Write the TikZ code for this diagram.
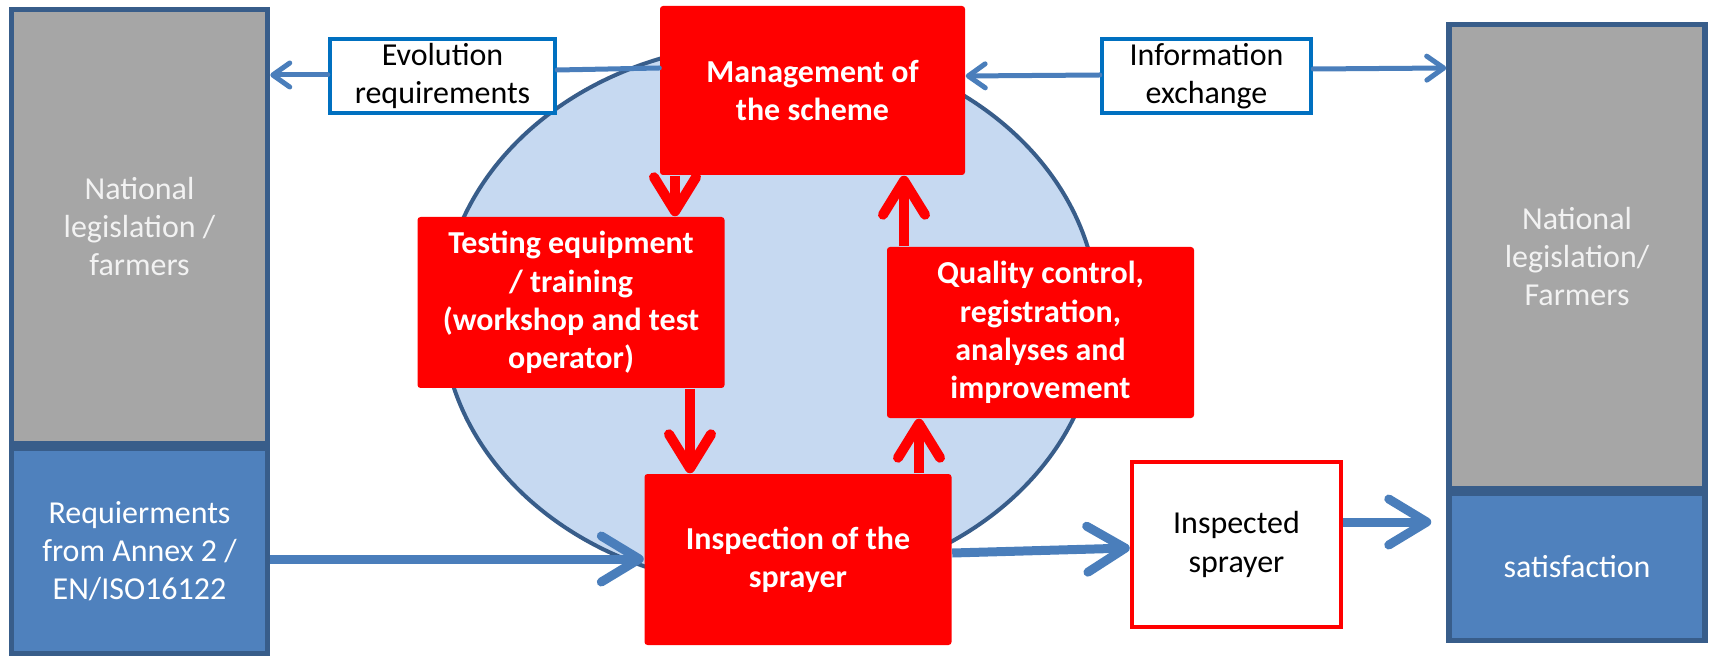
\documentclass[tikz,border=0pt]{standalone}
\usepackage{fontspec}
\setmainfont{Carlito}
\usepackage{tikz}
\usetikzlibrary{arrows.meta, shapes.geometric, positioning}

\definecolor{schemered}{HTML}{FF0000}
\definecolor{colgray}{HTML}{A6A6A6}
\definecolor{colblue}{HTML}{4F81BD}
\definecolor{colframe}{HTML}{385D8A}
\definecolor{ringfill}{HTML}{C6D9F1}
\definecolor{flowblue}{HTML}{4A7EBB}
\definecolor{linkblue}{HTML}{0070C0}
\definecolor{paletext}{HTML}{F2F2F2}

\begin{document}
\begin{tikzpicture}[x=0.1mm, y=-0.1mm,
        txt/.style={font=\fontsize{9.1}{10.9}\selectfont, align=center, inner sep=0pt},
        colbox/.style={txt, draw=colframe, line width=0.55mm, minimum width=25.6mm},
        redbox/.style={txt, font=\fontsize{9.1}{10.9}\selectfont\bfseries, fill=schemered, text=white,
            rounded corners=0.3mm, minimum width=30.7mm, minimum height=17.1mm},
        linkbox/.style={txt, draw=linkblue, fill=white, line width=0.45mm, minimum height=7.4mm},
        cyclearrow/.style={draw=schemered, line width=1mm, -{Straight Barb[length=3.4mm, width=4.2mm, round]}},
        feedline/.style={draw=flowblue, line width=0.5mm, line cap=round},
        feedarrow/.style={feedline, -{Straight Barb[length=1.7mm, width=2.4mm, round]}},
        flowarrow/.style={draw=flowblue, line width=0.9mm, -{Straight Barb[length=3.8mm, width=4.6mm, round]}}]
    \useasboundingbox (0,0) rectangle (1711,658);

    \node[ellipse, draw=colframe, fill=ringfill, line width=0.4mm,
        minimum width=65.6mm, minimum height=54.4mm] (ring) at (770,315) {};

    \node[colbox, fill=colgray, text=paletext, minimum height=43.4mm] (natL) at (139.5,226.5) {National\\legislation /\\farmers};
    \node[colbox, fill=colblue, text=white, minimum height=20.5mm] (reqL) at (139.5,551) {Requierments\\from Annex 2 /\\EN/ISO16122};
    \node[colbox, fill=colgray, text=paletext, minimum height=46.4mm] (natR) at (1577,256.5) {National\\legislation/\\Farmers};
    \node[colbox, fill=colblue, text=white, minimum height=14.7mm] (sat) at (1577,567) {satisfaction};

    \node[redbox, minimum width=30.5mm, minimum height=16.9mm] (mgmt) at (812.5,90.5) {Management of\\the scheme};
    \node[redbox] (testing) at (571,302.5) {Testing equipment\\/ training\\(workshop and test\\operator)};
    \node[redbox] (quality) at (1040.5,332.5) {Quality control,\\registration,\\analyses and\\improvement};
    \node[redbox] (insp) at (798,559.5) {Inspection of the\\sprayer};

    \node[txt, draw=schemered, fill=white, line width=0.45mm, minimum width=20.9mm, minimum height=16.5mm] (inspected) at (1236.5,544.5) {Inspected\\sprayer};

    \node[linkbox, minimum width=22.5mm] (evo) at (442.5,76) {Evolution\\requirements};
    \node[linkbox, minimum width=20.9mm] (info) at (1206.5,76) {Information\\exchange};

    \draw[cyclearrow] (675,0 |- mgmt.south) -- (675,0 |- testing.north);
    \draw[cyclearrow] (690,0 |- testing.south) -- (690,0 |- insp.north);
    \draw[cyclearrow] (919,0 |- insp.north) -- (919,0 |- quality.south);
    \draw[cyclearrow] (904,0 |- quality.north) -- (904,0 |- mgmt.south);

    \draw[feedline] (mgmt.west |- 0,68) -- (evo.east |- 0,70);
    \draw[feedarrow] (evo.west |- 0,75) -- (natL.east |- 0,75);
    \draw[feedarrow] (info.west |- 0,75) -- (mgmt.east |- 0,76);
    \draw[feedarrow] (info.east |- 0,69) -- (natR.west |- 0,68);

    \draw[flowarrow] (reqL.east |- 0,559) -- (insp.west |- 0,559);
    \draw[flowarrow] (insp.east |- 0,553) -- (inspected.west |- 0,548);
    \draw[flowarrow, shorten >=1.5mm] (inspected.east |- 0,522) -- (sat.west |- 0,522);
\end{tikzpicture}
\end{document}
